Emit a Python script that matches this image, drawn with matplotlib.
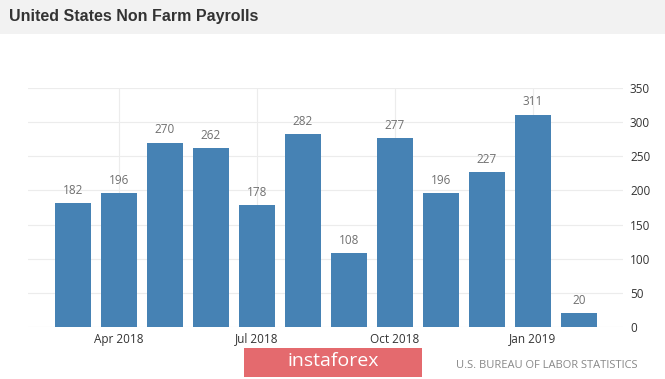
import matplotlib
matplotlib.use("Agg")
import matplotlib.pyplot as plt
from matplotlib.patches import Rectangle

# data (thousands of jobs, Mar 2018 .. Feb 2019)
months = ["Mar 2018", "Apr 2018", "May 2018", "Jun 2018", "Jul 2018", "Aug 2018",
          "Sep 2018", "Oct 2018", "Nov 2018", "Dec 2018", "Jan 2019", "Feb 2019"]
payrolls = [182, 196, 270, 262, 178, 282, 108, 277, 196, 227, 311, 20]
tick_idx = [1, 4, 7, 10]
yticks = [0, 50, 100, 150, 200, 250, 300, 350]

W, H = 665, 379
fig = plt.figure(figsize=(W / 100, H / 100), dpi=100)
fig.patch.set_facecolor("white")

# header band
fig.patches.append(Rectangle((0, 1 - 34 / H), 1, 34 / H, transform=fig.transFigure,
                             facecolor="#f2f2f2", edgecolor="none", zorder=0))
fig.text(9 / W, 1 - 17 / H, "United States Non Farm Payrolls", fontsize=11.5,
         fontweight="bold", color="#333333", va="center", ha="left",
         family="Liberation Sans")

# plot area in pixels
x0, x1, ytop, ybot = 28, 623, 88, 327
ax = fig.add_axes([x0 / W, 1 - ybot / H, (x1 - x0) / W, (ybot - ytop) / H])
ax.set_facecolor("white")

xs = list(range(len(payrolls)))
ax.bar(xs, payrolls, width=0.77, color="#4682b4", zorder=3)
for x, v in zip(xs, payrolls):
    ax.text(x, v + 9, str(v), ha="center", va="bottom", fontsize=8.5,
            color="#707070", family="Open Sans")

ax.set_xlim(-0.98, 11.96)
ax.set_ylim(0, 350)
ax.set_yticks(yticks)
ax.set_xticks(tick_idx)
ax.set_xticklabels([months[i] for i in tick_idx])
ax.yaxis.tick_right()
ax.tick_params(axis="y", length=0, pad=5, labelsize=8.5, labelcolor="#333333")
ax.tick_params(axis="x", length=0, pad=4, labelsize=8.5, labelcolor="#333333")
for lab in ax.get_xticklabels() + ax.get_yticklabels():
    lab.set_family("Open Sans")
ax.grid(True, color="#ececec", linewidth=0.8, zorder=0)
for s in ax.spines.values():
    s.set_visible(False)

# logo and source
fig.patches.append(Rectangle((244 / W, 1 - 377 / H), 178 / W, 29 / H,
                             transform=fig.transFigure, facecolor="#e46a6e",
                             edgecolor="none"))
fig.text(333 / W, 1 - 361 / H, "instaforex", fontsize=14, color="white",
         ha="center", va="center", family="Open Sans")
fig.text(638 / W, 1 - 366 / H, "U.S. BUREAU OF LABOR STATISTICS", fontsize=8,
         color="#888888", ha="right", va="center", family="Open Sans")

fig.savefig("out.png", dpi=100)
